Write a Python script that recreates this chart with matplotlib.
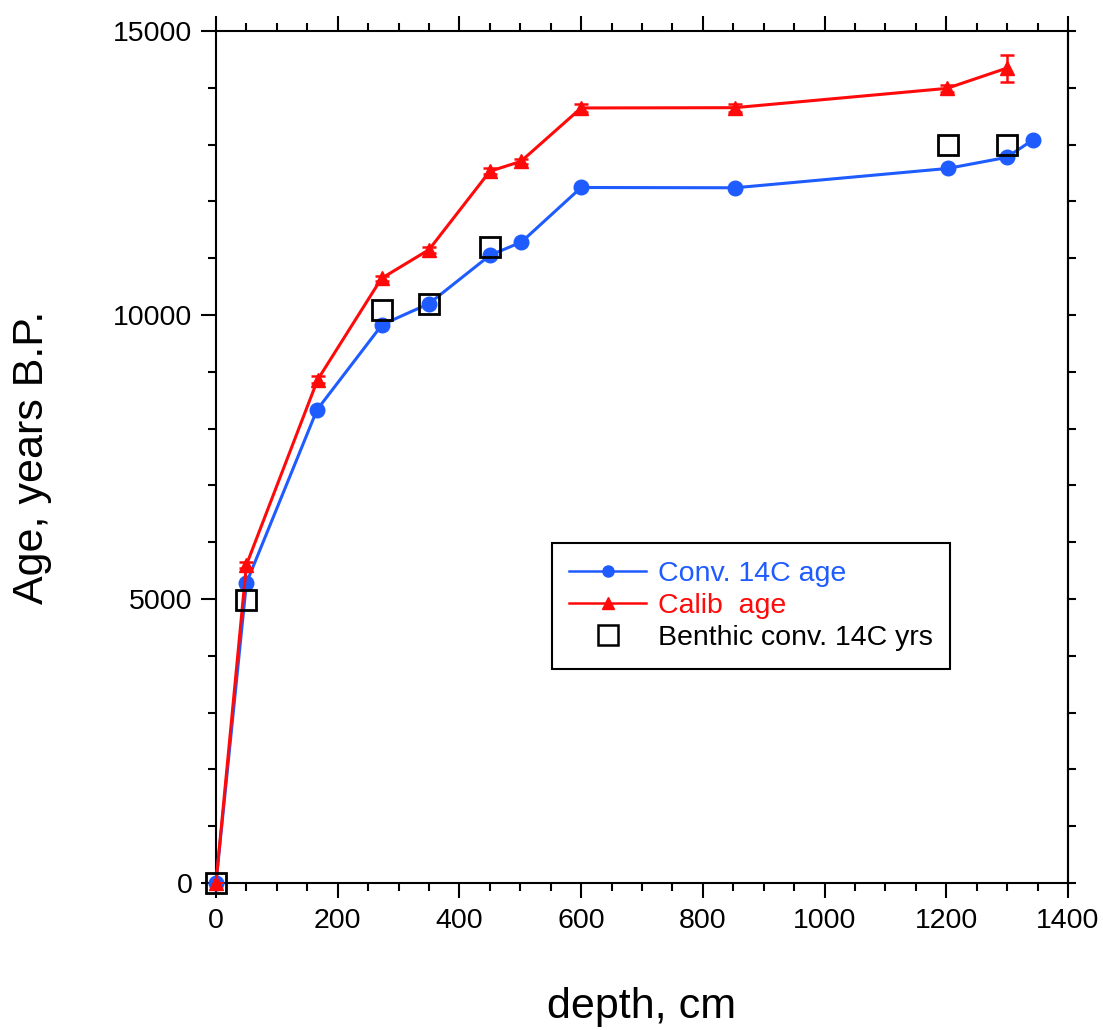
import numpy as np
import matplotlib
matplotlib.use('Agg')
import matplotlib.pyplot as plt
from matplotlib.lines import Line2D
from matplotlib.ticker import MultipleLocator

plt.rcParams['font.family'] = ['Liberation Sans', 'DejaVu Sans']

# depth (cm) and ages
conv_depth = [0, 50, 166, 273, 350, 450, 502, 600, 853, 1202, 1299, 1342]
conv_age = [0, 5280, 8330, 9830, 10200, 11050, 11285, 12245, 12240, 12580, 12775, 13080]

calib_depth = [0, 50, 167, 272, 350, 450, 501, 600, 852, 1201, 1299]
calib_age = [0, 5600, 8860, 10645, 11150, 12530, 12705, 13645, 13650, 13990, 14345]
calib_err = [0, 60, 60, 50, 50, 50, 50, 70, 70, 60, 235]

benthic_depth = [0, 50, 273, 350, 451, 1202, 1300]
benthic_age = [0, 4990, 10080, 10200, 11200, 13000, 13000]

blue = '#1f5cff'
red = '#ff0a0a'

fig = plt.figure(figsize=(11.03, 10.30), dpi=100)
ax = fig.add_axes([0.1958, 0.1427, 0.7725, 0.8272])

ax.plot(conv_depth, conv_age, color=blue, lw=2.2, marker='o', ms=10.5,
        zorder=3, clip_on=False)
eb = ax.errorbar(calib_depth, calib_age, yerr=calib_err, color=red, lw=2.2,
                 marker='^', ms=10, capsize=5, elinewidth=1.8, capthick=1.8,
                 zorder=3)
eb.lines[0].set_clip_on(False)
ax.plot(benthic_depth, benthic_age, ls='none', marker='s', ms=15,
        mfc='none', mec='black', mew=2, zorder=4, clip_on=False)

ax.set_xlim(0, 1400)
ax.set_ylim(0, 15000)
ax.xaxis.set_major_locator(MultipleLocator(200))
ax.xaxis.set_minor_locator(MultipleLocator(50))
ax.yaxis.set_major_locator(MultipleLocator(5000))
ax.yaxis.set_minor_locator(MultipleLocator(1000))

ax.tick_params(which='both', direction='out', top=True, right=False,
               width=1.5, labelsize=20.5, color='black')
ax.tick_params(which='major', length=11)
ax.tick_params(which='minor', length=6)
ax.tick_params(axis='x', which='major', pad=7)
ax.tick_params(axis='y', which='major', pad=6)
for s in ax.spines.values():
    s.set_linewidth(1.5)

# right side: short ticks every 1000, no labels
sec = ax.secondary_yaxis('right')
sec.yaxis.set_major_locator(MultipleLocator(1000))
sec.tick_params(direction='out', length=6, width=1.5, labelright=False)
sec.spines['right'].set_linewidth(1.5)

ax.set_xlabel('depth, cm', fontsize=31)
ax.set_ylabel('Age, years B.P.', fontsize=31)
ax.xaxis.set_label_coords(0.5, -0.122)
ax.yaxis.set_label_coords(-0.193, 0.5)

handles = [
    Line2D([], [], color=blue, lw=1.8, marker='o', ms=8),
    Line2D([], [], color=red, lw=1.8, marker='^', ms=8),
    Line2D([], [], ls='none', marker='s', ms=15, mfc='none', mec='black', mew=1.8),
]
leg = ax.legend(handles, ['Conv. 14C age', 'Calib  age', 'Benthic conv. 14C yrs'],
                loc='upper left', bbox_to_anchor=(0.394, 0.399), borderaxespad=0,
                fontsize=20.5, handlelength=2.7, handletextpad=0.4,
                borderpad=0.62, labelspacing=0.22, fancybox=False,
                framealpha=1, edgecolor='black')
leg.get_frame().set_linewidth(1.5)
for t, c in zip(leg.get_texts(), [blue, red, 'black']):
    t.set_color(c)

fig.savefig('out.png', dpi=100)
